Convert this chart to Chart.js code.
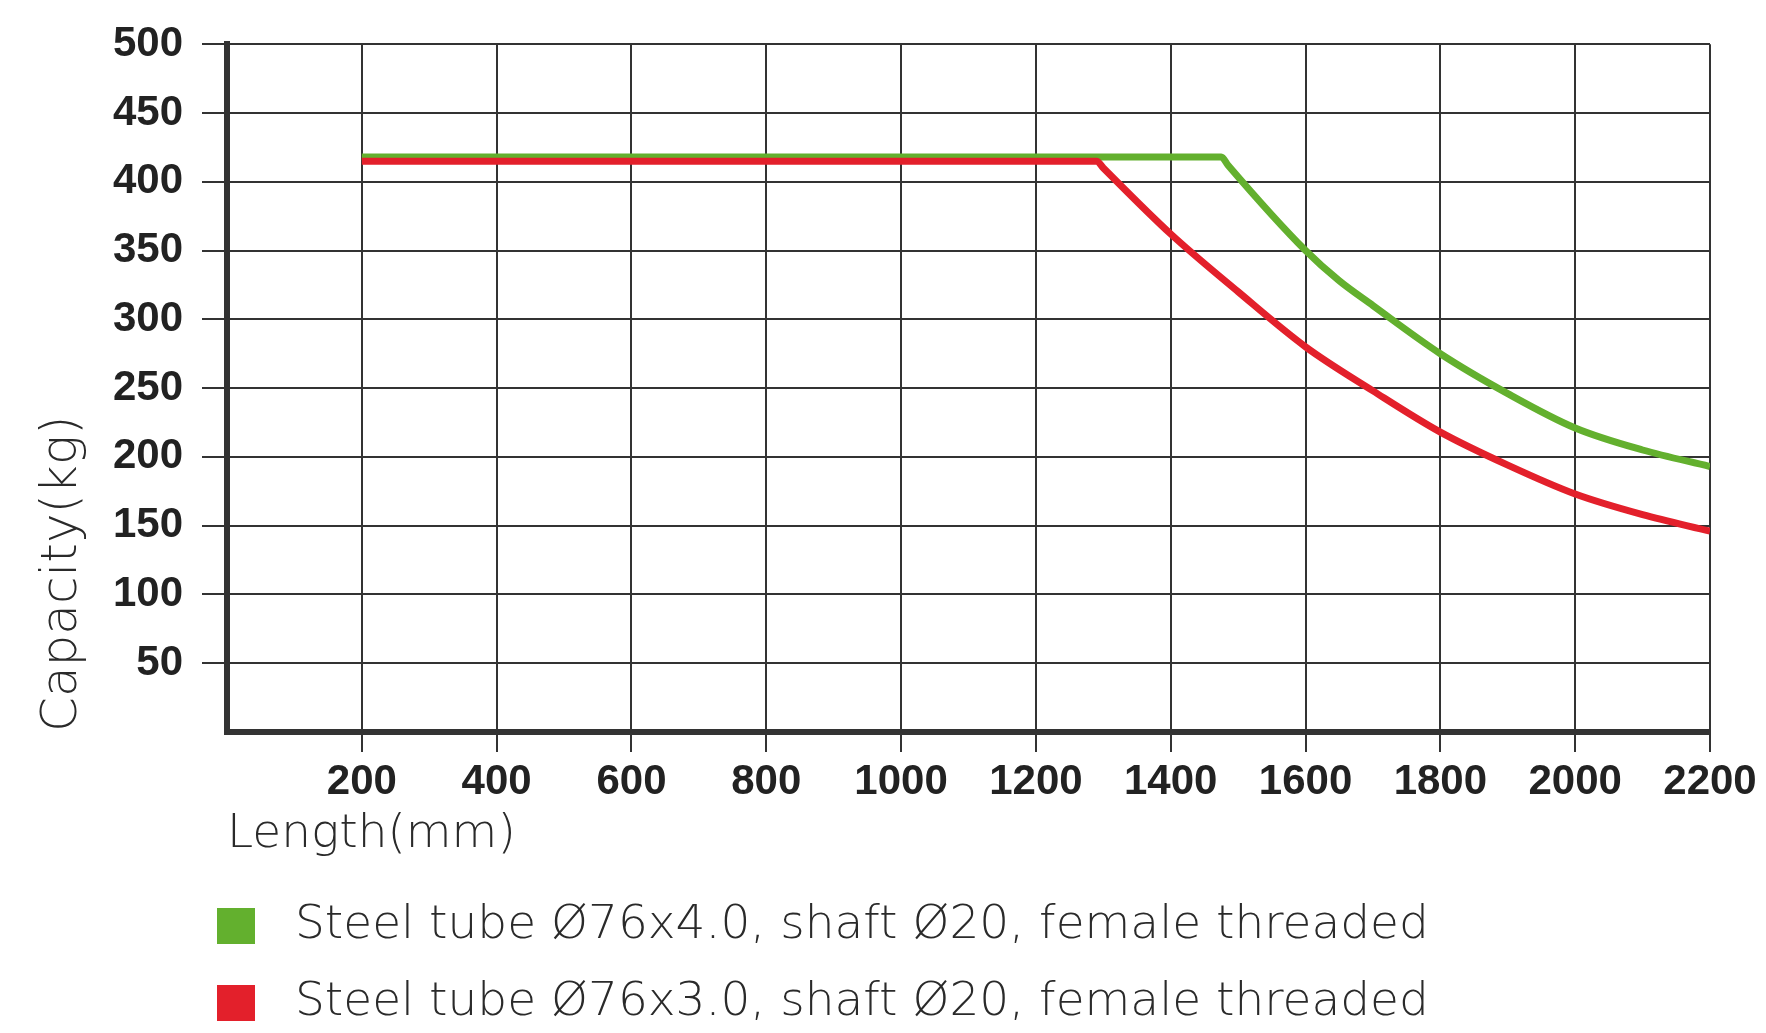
<!DOCTYPE html>
<html lang="en">
<head>
    <meta charset="UTF-8">
    <title>Capacity vs Length</title>
    <script src="https://cdn.jsdelivr.net/npm/chart.js"></script>
    <style>
        body { margin: 0; background: #fff; }
        #wrap { width: 1766px; height: 1033px; }
    </style>
</head>
<body>
    <div id="wrap">
        <canvas id="capacityChart" width="1766" height="1033"></canvas>
    </div>

    <script>
        // Data (length in mm, capacity in kg)
        const lengthGreen = [200, 1475, 1485, 1600, 1650, 1700, 1800, 1900, 2000, 2100, 2200];
        const capGreen    = [418, 418, 412, 350, 328, 310, 275, 246, 221, 205, 193];
        const lengthRed   = [200, 1290, 1300, 1400, 1500, 1600, 1700, 1800, 1900, 2000, 2100, 2200];
        const capRed      = [415, 415, 410, 362, 320, 280, 248, 218, 194, 173, 158, 146];

        const labelGreen = 'Steel tube Ø76x4.0, shaft Ø20, female threaded';
        const labelRed   = 'Steel tube Ø76x3.0, shaft Ø20, female threaded';

        const xMin = 0, xMax = 2200, xStep = 200;
        const yMin = 0, yMax = 500, yStep = 50;

        const thinFont = "'DejaVu Sans', Lato, sans-serif";
        const tickFont = { family: "'Liberation Sans', Arial, sans-serif", size: 42, weight: 'bold' };

        const toPoints = (xs, ys) => xs.map((x, i) => ({ x: x, y: ys[i] }));

        // legend drawn underneath the x axis title, one item per row
        const rowLegend = {
            id: 'rowLegend',
            afterDraw(chart) {
                const ctx = chart.ctx;
                ctx.save();
                chart.data.datasets.forEach((ds, i) => {
                    const y = 926 + i * 77;
                    ctx.fillStyle = ds.borderColor;
                    ctx.fillRect(217, y - 18, 38, 36);
                    ctx.fillStyle = '#2a2a2a';
                    ctx.font = '200 47px ' + thinFont;
                    ctx.textBaseline = 'middle';
                    ctx.textAlign = 'left';
                    ctx.fillText(ds.label, 295, y);
                });
                ctx.restore();
            }
        };

        const dropZero = scale => {
            scale.ticks = scale.ticks.filter(t => t.value !== 0);
        };

        const ctx = document.getElementById('capacityChart').getContext('2d');
        new Chart(ctx, {
            type: 'line',
            data: {
                datasets: [
                    {
                        label: labelGreen,
                        data: toPoints(lengthGreen, capGreen),
                        borderColor: '#63b02e',
                        borderWidth: 7,
                        pointRadius: 0,
                        cubicInterpolationMode: 'monotone',
                        order: 1
                    },
                    {
                        label: labelRed,
                        data: toPoints(lengthRed, capRed),
                        borderColor: '#e3202b',
                        borderWidth: 7,
                        pointRadius: 0,
                        cubicInterpolationMode: 'monotone',
                        order: 0
                    }
                ]
            },
            options: {
                responsive: false,
                animation: false,
                layout: { padding: { top: 35, right: 56, left: 0, bottom: 0 } },
                plugins: {
                    legend: { display: false },
                    tooltip: { enabled: false }
                },
                scales: {
                    x: {
                        type: 'linear',
                        min: xMin,
                        max: xMax,
                        afterBuildTicks: dropZero,
                        afterFit: s => { s.height = 301; },
                        ticks: {
                            stepSize: xStep, color: '#222', font: tickFont, padding: 5, maxRotation: 0,
                            callback: v => String(v)
                        },
                        grid: { color: '#333', lineWidth: 2, tickLength: 20 },
                        border: { color: '#333', width: 6 },
                        title: {
                            display: true,
                            text: 'Length(mm)',
                            align: 'start',
                            color: '#2a2a2a',
                            font: { family: thinFont, size: 47, weight: 200 },
                            padding: { top: 0, bottom: 170 }
                        }
                    },
                    y: {
                        min: yMin,
                        max: yMax,
                        afterBuildTicks: dropZero,
                        afterFit: s => { s.width = 227; },
                        ticks: { stepSize: yStep, color: '#222', font: tickFont, padding: 19 },
                        grid: { color: '#333', lineWidth: 2, tickLength: 25 },
                        border: { color: '#333', width: 6 },
                        title: {
                            display: true,
                            text: 'Capacity(kg)',
                            align: 'start',
                            color: '#2a2a2a',
                            font: { family: thinFont, size: 50, weight: 200 },
                            padding: { top: 33, bottom: 0 }
                        }
                    }
                }
            },
            plugins: [rowLegend]
        });
    </script>
</body>
</html>
